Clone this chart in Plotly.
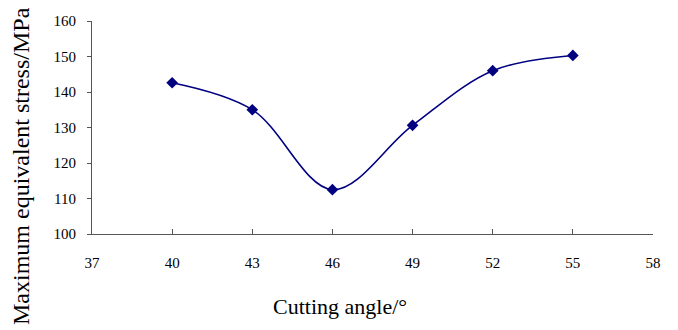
import plotly.graph_objects as go

angles = [40, 43, 46, 49, 52, 55]
stress = [142.6, 135.0, 112.5, 130.6, 146.0, 150.3]
x_ticks = [37, 40, 43, 46, 49, 52, 55, 58]
y_ticks = [100, 110, 120, 130, 140, 150, 160]

font_family = "Liberation Serif"

plot_l, plot_r, plot_t, plot_b = 92, 653, 21, 234
W, H = 678, 330

fig = go.Figure()
fig.add_trace(go.Scatter(
    x=angles, y=stress, mode="lines+markers",
    line=dict(color="#000080", width=1.6, shape="spline", smoothing=1.0),
    marker=dict(symbol="diamond", size=9, color="#000080"),
    showlegend=False,
))

pw, ph = plot_r - plot_l, plot_b - plot_t
def px_to_paper(px, py):
    return (px - plot_l) / pw, (plot_b - py) / ph

ax, ay = px_to_paper(340, 306)
bx, by = px_to_paper(21, 166)

fig.update_layout(
    width=W, height=H,
    margin=dict(l=plot_l, r=W - plot_r, t=plot_t, b=H - plot_b, autoexpand=False),
    paper_bgcolor="white", plot_bgcolor="white",
    font=dict(family=font_family, color="black", size=15),
    xaxis=dict(
        range=[37, 58], tickvals=x_ticks, ticktext=[str(v) for v in x_ticks],
        showline=True, linecolor="#555555", linewidth=1,
        ticks="inside", ticklen=5, tickcolor="#555555",
        showgrid=False, zeroline=False, automargin=False,
        ticklabelstandoff=15,
        tickfont=dict(size=15, family=font_family),
    ),
    yaxis=dict(
        range=[100, 160], tickvals=y_ticks,
        showline=True, linecolor="#555555", linewidth=1,
        ticks="outside", ticklen=4, tickcolor="#555555",
        showgrid=False, zeroline=False, automargin=False,
        ticklabelstandoff=8,
        tickfont=dict(size=15, family=font_family),
    ),
    annotations=[
        dict(text="Cutting angle/°", x=ax, y=ay, xref="paper", yref="paper",
             xanchor="center", yanchor="middle",
             showarrow=False, font=dict(size=22, family=font_family)),
        dict(text="Maximum equivalent stress/MPa", textangle=-90,
             x=bx, y=by, xref="paper", yref="paper",
             xanchor="center", yanchor="middle",
             showarrow=False, font=dict(size=24, family=font_family)),
    ],
)

fig.write_html("out.html",
               config={"displayModeBar": False},
               post_script="document.body.style.margin='0';document.body.style.overflow='hidden';")
